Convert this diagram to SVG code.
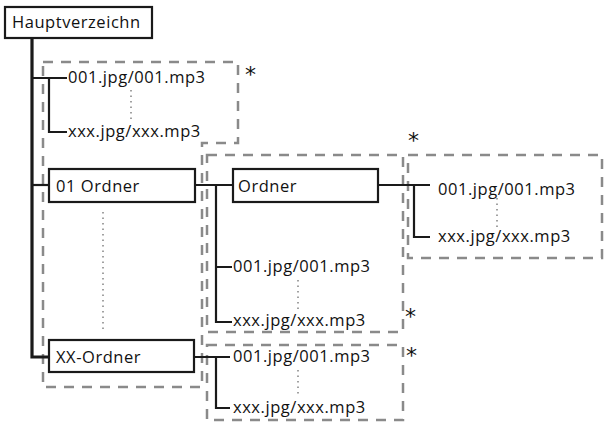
<svg xmlns="http://www.w3.org/2000/svg" width="607" height="426" viewBox="0 0 607 426">
<style>
.t{font-family:"Open Sans","DejaVu Sans",sans-serif;font-size:16.5px;letter-spacing:0.55px;fill:#111}
.box{fill:#fff;stroke:#1a1a1a;stroke-width:2.2}
.dash{fill:none;stroke:#8a8a8a;stroke-width:2.5;stroke-dasharray:10 8}
.ln{fill:none;stroke:#1a1a1a;stroke-width:2.2}
.main{fill:none;stroke:#1a1a1a;stroke-width:3.2}
.dot{fill:none;stroke:#8a8a8a;stroke-width:1.6;stroke-dasharray:1.5 4}
.ast{font-family:"DejaVu Sans",sans-serif;font-size:22px;fill:#111}
</style>
<rect width="607" height="426" fill="#fff"/>
<g id="groups">
<polygon class="dash" points="43,62 238,62 238,143 202,143 202,387 43,387"/>
<rect class="dash" x="207" y="155" width="196" height="177"/>
<rect class="dash" x="408" y="155" width="194" height="103"/>
<rect class="dash" x="207" y="345" width="196" height="75"/>
</g>
<g id="connectors">
<path class="main" d="M32,38 V357 H49"/>
<path class="ln" d="M32,185 H49"/>
<path class="ln" d="M32,78 H67 M49,78 V132 H67"/>
<path class="ln" d="M195,185 H233 M216,185 V322 H232 M216,267 H232"/>
<path class="ln" d="M378,185 H430 M414,185 V237 H430"/>
<path class="ln" d="M194,357 H230 M216,357 V408 H230"/>
<path class="dot" d="M131,90 V120"/>
<path class="dot" d="M103,212 V330"/>
<path class="dot" d="M298,280 V310"/>
<path class="dot" d="M497,198 V227"/>
<path class="dot" d="M298,370 V397"/>
</g>
<g id="root">
<rect class="box" x="5" y="7" width="147" height="31"/>
<text class="t" x="12" y="28">Hauptverzeichn</text>
</g>
<g id="rootfiles">
<text class="t" x="68" y="83">001.jpg/001.mp3</text>
<text class="t" x="68" y="137">xxx.jpg/xxx.mp3</text>
</g>
<g id="ordner01">
<rect class="box" x="49" y="169" width="146" height="33"/>
<text class="t" x="56" y="192">01 Ordner</text>
</g>
<g id="ordnerXX">
<rect class="box" x="49" y="340" width="145" height="32"/>
<text class="t" x="56" y="363">XX-Ordner</text>
</g>
<g id="ordner">
<rect class="box" x="233" y="169" width="145" height="33"/>
<text class="t" x="238" y="192">Ordner</text>
</g>
<g id="ordnerfiles">
<text class="t" x="233" y="272">001.jpg/001.mp3</text>
<text class="t" x="233" y="326">xxx.jpg/xxx.mp3</text>
</g>
<g id="subfiles">
<text class="t" x="438" y="195">001.jpg/001.mp3</text>
<text class="t" x="438" y="242">xxx.jpg/xxx.mp3</text>
</g>
<g id="xxfiles">
<text class="t" x="233" y="362">001.jpg/001.mp3</text>
<text class="t" x="233" y="413">xxx.jpg/xxx.mp3</text>
</g>
<g id="asterisks">
<text class="ast" x="245" y="82">*</text>
<text class="ast" x="408" y="148">*</text>
<text class="ast" x="405" y="324">*</text>
<text class="ast" x="406" y="363">*</text>
</g>
</svg>
